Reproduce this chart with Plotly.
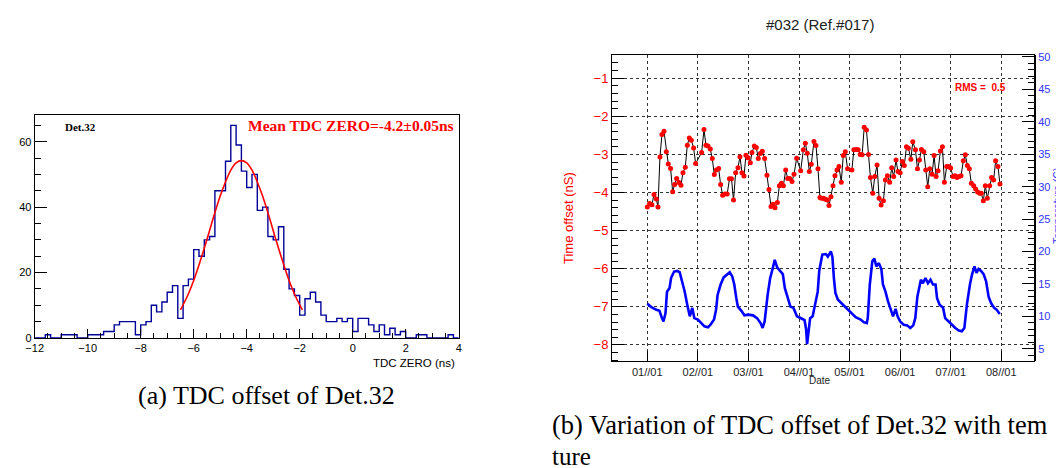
import numpy as np
import plotly.graph_objects as go

W, H = 1064, 468

# ---------------- panel (a): TDC ZERO histogram ----------------
tdc_bin_lo = -12.0
tdc_bin_w = 0.2
tdc_counts = [0, 0, 1, 0, 0, 1, 1, 1, 0, 0,
              1, 1, 1, 2, 2, 4, 5, 5, 5, 1,
              4, 5, 10, 8, 11, 14, 16, 6, 16, 18,
              27, 25, 30, 31, 45, 45, 54, 65, 59, 51,
              46, 50, 39, 40, 31, 30, 34, 21, 15, 13,
              7, 12, 14, 11, 7, 5, 5, 6, 5, 6,
              2, 6, 6, 4, 2, 4, 1, 3, 1, 2,
              0, 0, 1, 1, 0, 0, 0, 0, 1, 0]
fit_x = [-6.5, -6.25, -6.0, -5.75, -5.5, -5.25, -5.0, -4.8, -4.6, -4.4, -4.2,
         -4.0, -3.8, -3.6, -3.4, -3.15, -2.9, -2.65, -2.4, -2.15, -1.9]
fit_y = [8.6, 12.6, 17.6, 23.6, 30.1, 37.0, 43.4, 47.7, 51.3, 53.5, 54.2,
         53.5, 51.3, 47.7, 43.4, 37.0, 30.1, 23.6, 17.6, 12.6, 8.6]
det_label = "Det.32"
mean_label = "Mean TDC ZERO=-4.2±0.05ns"

# ---------------- panel (b): offset vs date, temperature ----------------
date_ticks = [0, 1, 2, 3, 4, 5, 6, 7]
date_labels = ["01//01", "02//01", "03//01", "04//01", "05//01", "06//01", "07//01", "08//01"]

offset_x = [0.000, 0.046, 0.092, 0.132, 0.178, 0.211, 0.250, 0.290, 0.330, 0.376, 0.415, 0.461,
            0.501, 0.541, 0.580, 0.626, 0.666, 0.705, 0.751, 0.791, 0.831, 0.870, 0.916, 0.956,
            1.074, 1.121, 1.160, 1.200, 1.246, 1.285, 1.325, 1.365, 1.411, 1.450, 1.490, 1.535,
            1.580, 1.625, 1.665, 1.705, 1.747, 1.793, 1.833, 1.872, 1.912, 1.951, 1.991,
            2.037, 2.070, 2.116, 2.156, 2.195, 2.235, 2.274, 2.320, 2.367, 2.406, 2.447, 2.487,
            2.526, 2.572, 2.612, 2.651, 2.691, 2.737, 2.776, 2.816, 2.862, 2.901, 2.954,
            3.033, 3.086, 3.125, 3.164, 3.204, 3.243, 3.296, 3.336, 3.375, 3.414, 3.443, 3.482,
            3.521, 3.561, 3.593, 3.633, 3.672, 3.711, 3.751, 3.790, 3.836, 3.875, 3.915, 3.961,
            4.046, 4.085, 4.131, 4.170, 4.210, 4.249, 4.289, 4.334, 4.374, 4.413, 4.459, 4.498,
            4.544, 4.584, 4.623, 4.669, 4.708, 4.748, 4.793, 4.833, 4.872, 4.918, 4.957, 5.000,
            5.043, 5.082, 5.125, 5.165, 5.212, 5.250, 5.303, 5.342, 5.382, 5.421, 5.467, 5.507,
            5.546, 5.586, 5.632, 5.671, 5.711, 5.750, 5.796, 5.836, 5.875, 5.921, 5.961,
            6.000, 6.046, 6.086, 6.125, 6.164, 6.204, 6.250, 6.289, 6.329, 6.368, 6.408, 6.454,
            6.493, 6.533, 6.572, 6.605, 6.645, 6.684, 6.724, 6.770, 6.809, 6.849, 6.888, 6.934,
            6.974]
offset_ns = [-4.38, -4.29, -4.32, -4.05, -4.17, -4.38, -3.07, -2.48, -2.39, -2.93, -3.25, -3.37,
             -3.98, -3.79, -3.63, -3.74, -3.81, -3.48, -3.34, -2.76, -2.57, -2.63, -2.83, -3.24,
             -2.95, -2.35, -2.76, -2.78, -2.86, -3.11, -3.53, -3.41, -3.37, -3.79, -4.07, -4.04,
             -4.04, -3.64, -3.64, -4.20, -3.48, -3.35, -3.06, -3.48, -3.57, -3.02, -3.09,
             -3.22, -2.95, -2.78, -2.82, -3.11, -2.98, -2.92, -3.11, -3.55, -3.92, -4.37, -4.31,
             -4.40, -4.26, -3.82, -3.76, -3.82, -3.41, -3.63, -3.63, -3.71, -3.52, -3.10,
             -3.43, -2.88, -2.71, -2.97, -3.45, -3.26, -2.66, -2.77, -3.38, -4.13, -4.15, -4.15,
             -4.18, -4.20, -4.34, -4.11, -3.82, -3.56, -3.41, -3.32, -3.73, -3.03, -2.93, -3.38,
             -3.41, -2.88, -2.87, -2.88, -3.00, -3.01, -2.29, -2.36, -3.00, -3.61, -4.02, -3.58,
             -3.28, -4.15, -4.33, -4.22, -3.67, -3.56, -3.73, -3.35, -3.58, -3.15, -3.45, -3.48,
             -3.19, -3.29, -2.80, -2.84, -3.13, -2.67, -2.88, -3.38, -3.15, -2.87, -2.93, -3.41,
             -3.85, -3.38, -3.52, -3.03, -3.58, -3.43, -2.91, -2.80, -3.73, -3.32, -3.32,
             -3.36, -3.58, -3.56, -3.61, -3.58, -3.56, -3.17, -3.01, -3.29, -3.38, -3.76, -3.82,
             -3.91, -3.99, -4.02, -4.02, -4.22, -3.82, -4.15, -3.82, -3.61, -3.67, -3.17, -3.32,
             -3.78]

temp_x = [0.00, 0.08, 0.18, 0.24, 0.29, 0.32, 0.36, 0.39, 0.44, 0.47, 0.53, 0.59, 0.64, 0.68,
          0.74, 0.79, 0.84, 0.89, 0.93, 1.00, 1.07, 1.13, 1.20, 1.25, 1.32, 1.36, 1.39, 1.45,
          1.51, 1.58, 1.63, 1.68, 1.72, 1.76, 1.79, 1.86, 1.92, 1.99, 2.09, 2.17, 2.24, 2.28,
          2.32, 2.38, 2.43, 2.48, 2.52, 2.57, 2.63, 2.68, 2.72, 2.78, 2.83, 2.89, 2.96, 3.04,
          3.11, 3.14, 3.16, 3.19, 3.22, 3.27, 3.30, 3.37, 3.40, 3.46, 3.53, 3.57, 3.63, 3.66,
          3.69, 3.72, 3.77, 3.84, 3.92, 4.02, 4.12, 4.22, 4.28, 4.34, 4.36, 4.40, 4.45, 4.49,
          4.53, 4.58, 4.63, 4.66, 4.71, 4.76, 4.81, 4.86, 4.91, 4.95, 5.00, 5.07, 5.14, 5.20,
          5.26, 5.30, 5.34, 5.37, 5.41, 5.45, 5.50, 5.55, 5.60, 5.65, 5.70, 5.73, 5.78, 5.85,
          5.89, 5.96, 6.02, 6.09, 6.16, 6.22, 6.27, 6.32, 6.38, 6.42, 6.47, 6.51, 6.55, 6.60,
          6.65, 6.70, 6.75, 6.80, 6.86, 6.91, 6.97]
temp_c = [11.93, 11.42, 11.0, 10.85, 9.72, 9.2, 10.5, 13.8, 14.35, 15.9, 16.9, 17.0, 16.8, 15.65,
          13.8, 11.8, 10.0, 11.3, 9.72, 9.5, 8.95, 8.45, 8.3, 8.7, 9.5, 11.0, 13.3, 14.9,
          16.0, 16.5, 16.8, 16.15, 14.9, 12.8, 11.5, 10.85, 10.15, 10.25, 10.15, 9.72, 8.95, 8.2,
          9.2, 13.3, 15.9, 17.4, 18.7, 17.5, 17.0, 16.5, 14.35, 12.8, 11.5, 11.3, 10.0, 9.7,
          9.4, 8.0, 5.7, 7.7, 9.72, 10.0, 11.0, 13.8, 17.0, 19.5, 19.6, 19.2, 20.0, 19.2,
          15.9, 13.6, 12.55, 12.0, 11.3, 10.5, 9.85, 9.5, 9.1, 8.95, 9.72, 14.9, 18.5, 18.9,
          17.7, 18.2, 17.2, 14.9, 13.8, 12.3, 11.0, 10.0, 11.15, 10.0, 9.2, 8.7, 8.6, 8.2,
          8.6, 9.72, 13.0, 14.35, 15.65, 15.1, 15.9, 15.1, 15.65, 14.9, 14.9, 12.8, 11.8, 11.3,
          9.72, 9.2, 8.7, 8.2, 7.8, 7.7, 8.2, 11.8, 14.9, 16.4, 17.7, 16.7, 17.3, 17.0,
          16.5, 15.4, 13.0, 12.0, 11.3, 11.0, 10.35]
rms_label = "RMS =  0.5"

# ---------------- helpers (pixel -> paper) ----------------
def px(x):
    return x / W

def py(y):
    return 1 - y / H

SANS = "Liberation Sans, Arial, sans-serif"
SERIF = "Liberation Serif, Times New Roman, serif"

edges = tdc_bin_lo + tdc_bin_w * np.arange(len(tdc_counts) + 1)
step_y = list(tdc_counts) + [tdc_counts[-1]]

fig = go.Figure()
fig.add_trace(go.Scatter(x=edges, y=step_y, mode="lines", line=dict(shape="hv", color="#000099", width=1.4),
                         xaxis="x", yaxis="y", showlegend=False, hoverinfo="skip"))
fig.add_trace(go.Scatter(x=fit_x, y=fit_y, mode="lines", line=dict(shape="spline", color="#ff0000", width=1.6),
                         xaxis="x", yaxis="y", showlegend=False))

fig.add_trace(go.Scatter(x=temp_x, y=temp_c, mode="lines", line=dict(color="#0000ff", width=2.6),
                         xaxis="x2", yaxis="y3", showlegend=False))
fig.add_trace(go.Scatter(x=offset_x, y=offset_ns, mode="lines+markers",
                         line=dict(color="black", width=1),
                         marker=dict(color="#ff0000", size=5, line=dict(width=0)),
                         xaxis="x2", yaxis="y2", showlegend=False))

axis_common = dict(showline=True, linecolor="black", linewidth=1, ticks="inside", tickcolor="black",
                   zeroline=False, automargin=False)

fig.update_layout(
    width=W, height=H, autosize=False,
    margin=dict(l=0, r=0, t=0, b=0, pad=0, autoexpand=False),
    paper_bgcolor="white", plot_bgcolor="white",
    showlegend=False,
    xaxis=dict(domain=[px(26.7), px(450.7)], range=[-12, 4], anchor="y", mirror=True,
               tick0=-12, dtick=2, ticklen=9, showgrid=False,
               minor=dict(ticks="inside", dtick=0.5, tick0=-12, ticklen=5, tickcolor="black", showgrid=False),
               tickfont=dict(family=SANS, size=11, color="black"), **axis_common),
    yaxis=dict(domain=[py(330), py(106.7)], range=[0, 68.25], anchor="x", mirror=True,
               tick0=0, dtick=20, ticklen=12, showgrid=False,
               minor=dict(ticks="inside", dtick=5, tick0=0, ticklen=6, tickcolor="black", showgrid=False),
               tickfont=dict(family=SANS, size=11, color="black"), **axis_common),
    xaxis2=dict(domain=[px(604), px(1026)], range=[-0.698, 7.647], anchor="y2", mirror=True,
                tickvals=date_ticks, ticktext=date_labels, ticklen=10,
                showgrid=True, gridcolor="#333333", griddash="dot", gridwidth=1,
                tickfont=dict(family=SANS, size=11, color="#222222"), **axis_common),
    yaxis2=dict(domain=[py(353.3), py(47.3)], range=[-8.43, -0.40], anchor="x2", mirror=True,
                tick0=0, dtick=1, ticklen=12,
                showgrid=True, gridcolor="#333333", griddash="dot", gridwidth=1,
                minor=dict(ticks="inside", dtick=0.2, tick0=0, ticklen=6, tickcolor="black", showgrid=False),
                tickfont=dict(family=SANS, size=13, color="#ff0000"), **axis_common),
    yaxis3=dict(overlaying="y2", side="right", anchor="x2", range=[3.06, 50.26],
                tick0=0, dtick=5, ticklen=12, showgrid=False,
                minor=dict(ticks="inside", dtick=1, tick0=0, ticklen=6, tickcolor="black", showgrid=False),
                tickfont=dict(family=SANS, size=11, color="#3333ff"),
                showline=True, linecolor="black", linewidth=2, ticks="inside", tickcolor="black",
                zeroline=False, automargin=False),
)

ann = []
ann.append(dict(text="<b>" + det_label + "</b>", x=px(55), y=py(119), xanchor="left", yanchor="middle",
                font=dict(family=SERIF, size=11, color="black")))
ann.append(dict(text="<b>" + mean_label + "</b>", x=px(448), y=py(117), xanchor="right", yanchor="middle",
                font=dict(family=SERIF, size=15.5, color="#ff0000")))
ann.append(dict(text="TDC ZERO (ns)", x=px(449), y=py(355), xanchor="right", yanchor="middle",
                font=dict(family=SANS, size=11.5, color="black")))
ann.append(dict(text="#032 (Ref.#017)", x=px(812), y=py(17), xanchor="center", yanchor="middle",
                font=dict(family=SANS, size=15, color="#222222")))
ann.append(dict(text="<b>" + rms_label + "</b>", x=px(1000), y=py(79), xanchor="right", yanchor="middle",
                font=dict(family=SANS, size=10, color="#ff0000")))
ann.append(dict(text="Date", x=px(812), y=py(372), xanchor="center", yanchor="middle",
                font=dict(family=SANS, size=10, color="#222222")))
ann.append(dict(text="Time offset (nS)", x=px(561), y=py(210), xanchor="center", yanchor="middle",
                textangle=-90, font=dict(family=SANS, size=13, color="#ff0000")))
ann.append(dict(text="Temperature (C)", x=px(1049), y=py(198), xanchor="center", yanchor="middle",
                textangle=-90, font=dict(family=SANS, size=10.5, color="#3333ff")))
ann.append(dict(text="(a) TDC offset of Det.32", x=px(258), y=py(387), xanchor="center", yanchor="middle",
                font=dict(family=SERIF, size=26, color="black")))
ann.append(dict(text="(b) Variation of TDC offset of Det.32 with tem", x=px(542), y=py(417),
                xanchor="left", yanchor="middle", font=dict(family=SERIF, size=26.5, color="black")))
ann.append(dict(text="ture", x=px(542), y=py(448), xanchor="left", yanchor="middle",
                font=dict(family=SERIF, size=25, color="black")))
for a in ann:
    a.update(xref="paper", yref="paper", showarrow=False)
fig.update_layout(annotations=ann)

fig.write_html("out.html")
